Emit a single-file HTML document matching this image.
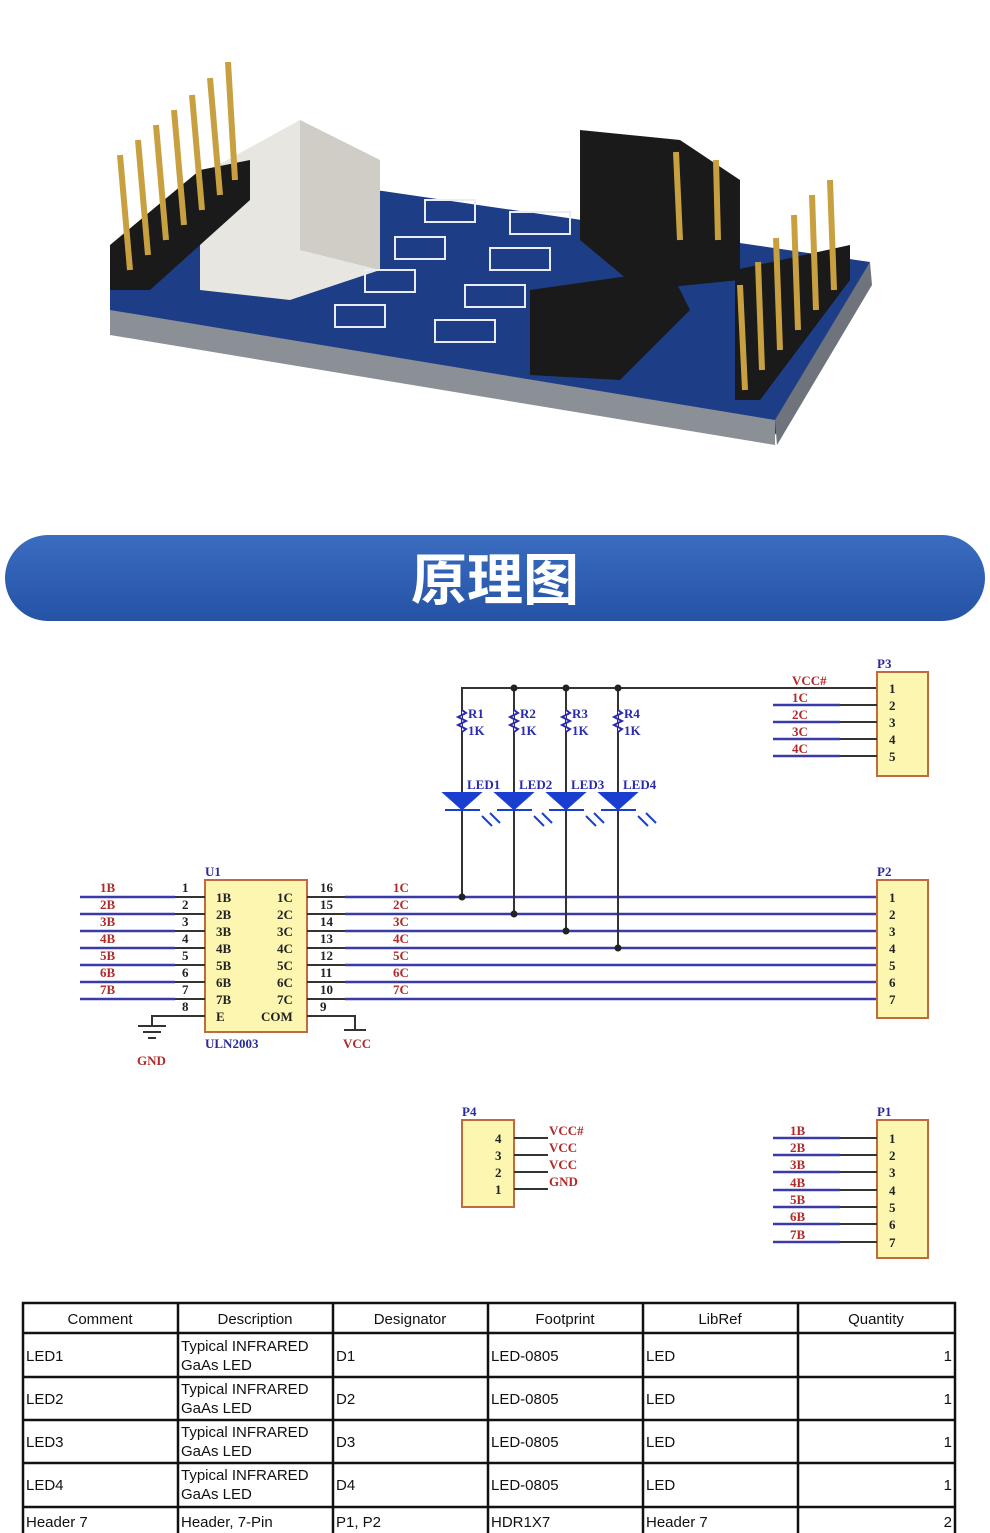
<!DOCTYPE html>
<html><head><meta charset="utf-8"><style>
html,body{margin:0;padding:0;background:#fff}
svg{display:block}
.r{font-family:"Liberation Serif",serif;font-size:13px;fill:#b02a2a;font-weight:bold}
.k{font-family:"Liberation Serif",serif;font-size:13px;fill:#222;font-weight:bold}
.b{font-family:"Liberation Serif",serif;font-size:13px;fill:#2a2a9a;font-weight:bold}
.t{font-family:"Liberation Sans",sans-serif;font-size:15px;fill:#111}
</style></head><body>
<svg width="990" height="1533" viewBox="0 0 990 1533" xmlns="http://www.w3.org/2000/svg">
<rect width="990" height="1533" fill="#fff"/>
<polygon points="110,290 293,178 870,262 775,435 110,330" fill="#1d3e86"/>
<polygon points="110,310 775,420 775,445 110,335" fill="#8b8f96"/>
<polygon points="775,420 870,262 872,285 777,445" fill="#6f747c"/>
<g fill="#e8e6e0"><polygon points="200,175 300,120 380,160 380,270 290,300 200,290"/></g>
<polygon points="300,120 380,160 380,270 300,250" fill="#cfcdc6"/>
<g fill="#1a1a1a"><polygon points="110,245 200,170 250,160 250,200 150,290 110,290"/>
<polygon points="580,130 680,140 740,180 740,280 640,290 580,240"/>
<polygon points="530,290 670,270 690,310 620,380 530,375"/>
<polygon points="735,270 850,245 850,280 760,400 735,400"/></g>
<g stroke="#c8a040" stroke-width="6">
<line x1="120" y1="155" x2="130" y2="270"/><line x1="138" y1="140" x2="148" y2="255"/><line x1="156" y1="125" x2="166" y2="240"/><line x1="174" y1="110" x2="184" y2="225"/><line x1="192" y1="95" x2="202" y2="210"/><line x1="210" y1="78" x2="220" y2="195"/><line x1="228" y1="62" x2="235" y2="180"/>
<line x1="676" y1="152" x2="680" y2="240"/><line x1="716" y1="160" x2="718" y2="240"/>
<line x1="740" y1="285" x2="745" y2="390"/><line x1="758" y1="262" x2="762" y2="370"/><line x1="776" y1="238" x2="780" y2="350"/><line x1="794" y1="215" x2="798" y2="330"/><line x1="812" y1="195" x2="816" y2="310"/><line x1="830" y1="180" x2="834" y2="290"/>
</g>
<g fill="none" stroke="#e8ecf4" stroke-width="2">
<rect x="425" y="200" width="50" height="22"/><rect x="395" y="237" width="50" height="22"/><rect x="365" y="270" width="50" height="22"/><rect x="335" y="305" width="50" height="22"/>
<rect x="510" y="212" width="60" height="22"/><rect x="490" y="248" width="60" height="22"/><rect x="465" y="285" width="60" height="22"/><rect x="435" y="320" width="60" height="22"/>
</g>
<defs><linearGradient id="g" x1="0" y1="0" x2="0" y2="1"><stop offset="0" stop-color="#3a6cc0"/><stop offset="1" stop-color="#2553a6"/></linearGradient></defs>
<rect x="5" y="535" width="980" height="86" rx="43" fill="url(#g)"/>
<text x="495" y="600" text-anchor="middle" font-family="Liberation Sans,'Noto Sans CJK SC',sans-serif" font-size="56" font-weight="bold" fill="#fff">原理图</text>

<rect x="205" y="880" width="102" height="152" fill="#fdf6b0" stroke="#c06a40" stroke-width="2"/>
<text x="205" y="876" class="b">U1</text><text x="205" y="1048" class="b">ULN2003</text>
<g stroke="#333" stroke-width="2" fill="none">
<path d="M205 1016H152V1026"/><path d="M307 1016H355V1030"/>
<path d="M138 1026H166M143 1032H161M148 1038H156"/><path d="M344 1030H366"/>
</g>
<text x="137" y="1065" class="r">GND</text><text x="343" y="1048" class="r">VCC</text>
<g stroke="#3a3aa8" stroke-width="2.4">
<line x1="80" y1="897" x2="175" y2="897"/><line x1="80" y1="914" x2="175" y2="914"/><line x1="80" y1="931" x2="175" y2="931"/><line x1="80" y1="948" x2="175" y2="948"/><line x1="80" y1="965" x2="175" y2="965"/><line x1="80" y1="982" x2="175" y2="982"/><line x1="80" y1="999" x2="175" y2="999"/>
<line x1="345" y1="897" x2="877" y2="897"/><line x1="345" y1="914" x2="877" y2="914"/><line x1="345" y1="931" x2="877" y2="931"/><line x1="345" y1="948" x2="877" y2="948"/><line x1="345" y1="965" x2="877" y2="965"/><line x1="345" y1="982" x2="877" y2="982"/><line x1="345" y1="999" x2="877" y2="999"/>
</g>
<g stroke="#333" stroke-width="2">
<line x1="175" y1="897" x2="205" y2="897"/><line x1="175" y1="914" x2="205" y2="914"/><line x1="175" y1="931" x2="205" y2="931"/><line x1="175" y1="948" x2="205" y2="948"/><line x1="175" y1="965" x2="205" y2="965"/><line x1="175" y1="982" x2="205" y2="982"/><line x1="175" y1="999" x2="205" y2="999"/>
<line x1="307" y1="897" x2="345" y2="897"/><line x1="307" y1="914" x2="345" y2="914"/><line x1="307" y1="931" x2="345" y2="931"/><line x1="307" y1="948" x2="345" y2="948"/><line x1="307" y1="965" x2="345" y2="965"/><line x1="307" y1="982" x2="345" y2="982"/><line x1="307" y1="999" x2="345" y2="999"/>
</g>
<g class="r"><text x="100" y="892">1B</text><text x="100" y="909">2B</text><text x="100" y="926">3B</text><text x="100" y="943">4B</text><text x="100" y="960">5B</text><text x="100" y="977">6B</text><text x="100" y="994">7B</text>
<text x="393" y="892">1C</text><text x="393" y="909">2C</text><text x="393" y="926">3C</text><text x="393" y="943">4C</text><text x="393" y="960">5C</text><text x="393" y="977">6C</text><text x="393" y="994">7C</text></g>
<g class="k"><text x="182" y="892">1</text><text x="182" y="909">2</text><text x="182" y="926">3</text><text x="182" y="943">4</text><text x="182" y="960">5</text><text x="182" y="977">6</text><text x="182" y="994">7</text><text x="182" y="1011">8</text>
<text x="320" y="892">16</text><text x="320" y="909">15</text><text x="320" y="926">14</text><text x="320" y="943">13</text><text x="320" y="960">12</text><text x="320" y="977">11</text><text x="320" y="994">10</text><text x="320" y="1011">9</text>
<text x="216" y="902">1B</text><text x="216" y="919">2B</text><text x="216" y="936">3B</text><text x="216" y="953">4B</text><text x="216" y="970">5B</text><text x="216" y="987">6B</text><text x="216" y="1004">7B</text><text x="216" y="1021">E</text>
<text x="277" y="902">1C</text><text x="277" y="919">2C</text><text x="277" y="936">3C</text><text x="277" y="953">4C</text><text x="277" y="970">5C</text><text x="277" y="987">6C</text><text x="277" y="1004">7C</text><text x="261" y="1021">COM</text></g>

<g stroke="#333" stroke-width="2" fill="none">
<path d="M462 897V688H877"/><path d="M514 914V688"/><path d="M566 931V688"/><path d="M618 948V688"/>
</g>
<g fill="#222"><circle cx="462" cy="897" r="3.5"/><circle cx="514" cy="914" r="3.5"/><circle cx="566" cy="931" r="3.5"/><circle cx="618" cy="948" r="3.5"/>
<circle cx="514" cy="688" r="3.5"/><circle cx="566" cy="688" r="3.5"/><circle cx="618" cy="688" r="3.5"/></g>
<g fill="#fff" stroke="#2a2ab0" stroke-width="2">
<path d="M462 710l4 3-8 4 8 4-8 4 8 4-4 3"/><path d="M514 710l4 3-8 4 8 4-8 4 8 4-4 3"/><path d="M566 710l4 3-8 4 8 4-8 4 8 4-4 3"/><path d="M618 710l4 3-8 4 8 4-8 4 8 4-4 3"/>
</g>
<g class="b" style="fill:#2a2ab0"><text x="468" y="718">R1</text><text x="468" y="735">1K</text><text x="520" y="718">R2</text><text x="520" y="735">1K</text><text x="572" y="718">R3</text><text x="572" y="735">1K</text><text x="624" y="718">R4</text><text x="624" y="735">1K</text>
<text x="467" y="789">LED1</text><text x="519" y="789">LED2</text><text x="571" y="789">LED3</text><text x="623" y="789">LED4</text></g>
<g fill="#1a3fd0" stroke="#1a3fd0" stroke-width="2">
<path d="M444 793H480L462 809Z"/><line x1="445" y1="810" x2="480" y2="810"/>
<path d="M496 793H532L514 809Z"/><line x1="497" y1="810" x2="532" y2="810"/>
<path d="M548 793H584L566 809Z"/><line x1="549" y1="810" x2="584" y2="810"/>
<path d="M600 793H636L618 809Z"/><line x1="601" y1="810" x2="636" y2="810"/>
<path d="M482 816l10 10M490 813l10 10M534 816l10 10M542 813l10 10M586 816l10 10M594 813l10 10M638 816l10 10M646 813l10 10"/>
</g>

<rect x="877" y="672" width="51" height="104" fill="#fdf6b0" stroke="#c06a40" stroke-width="2"/>
<text x="877" y="668" class="b">P3</text>
<g stroke="#3a3aa8" stroke-width="2.4"><line x1="773" y1="705" x2="840" y2="705"/><line x1="773" y1="722" x2="840" y2="722"/><line x1="773" y1="739" x2="840" y2="739"/><line x1="773" y1="756" x2="840" y2="756"/></g>
<g stroke="#333" stroke-width="2"><line x1="840" y1="705" x2="877" y2="705"/><line x1="840" y1="722" x2="877" y2="722"/><line x1="840" y1="739" x2="877" y2="739"/><line x1="840" y1="756" x2="877" y2="756"/></g>
<g class="r"><text x="792" y="685">VCC#</text><text x="792" y="702">1C</text><text x="792" y="719">2C</text><text x="792" y="736">3C</text><text x="792" y="753">4C</text></g>
<g class="k"><text x="889" y="693">1</text><text x="889" y="710">2</text><text x="889" y="727">3</text><text x="889" y="744">4</text><text x="889" y="761">5</text></g>

<rect x="877" y="880" width="51" height="138" fill="#fdf6b0" stroke="#c06a40" stroke-width="2"/>
<text x="877" y="876" class="b">P2</text>
<g class="k"><text x="889" y="902">1</text><text x="889" y="919">2</text><text x="889" y="936">3</text><text x="889" y="953">4</text><text x="889" y="970">5</text><text x="889" y="987">6</text><text x="889" y="1004">7</text></g>

<rect x="462" y="1120" width="52" height="87" fill="#fdf6b0" stroke="#c06a40" stroke-width="2"/>
<text x="462" y="1116" class="b">P4</text>
<g stroke="#333" stroke-width="2"><line x1="514" y1="1138" x2="548" y2="1138"/><line x1="514" y1="1155" x2="548" y2="1155"/><line x1="514" y1="1172" x2="548" y2="1172"/><line x1="514" y1="1189" x2="548" y2="1189"/></g>
<g class="k"><text x="495" y="1143">4</text><text x="495" y="1160">3</text><text x="495" y="1177">2</text><text x="495" y="1194">1</text></g>
<g class="r"><text x="549" y="1135">VCC#</text><text x="549" y="1152">VCC</text><text x="549" y="1169">VCC</text><text x="549" y="1186">GND</text></g>

<rect x="877" y="1120" width="51" height="138" fill="#fdf6b0" stroke="#c06a40" stroke-width="2"/>
<text x="877" y="1116" class="b">P1</text>
<g stroke="#3a3aa8" stroke-width="2.4"><line x1="773" y1="1138" x2="840" y2="1138"/><line x1="773" y1="1155" x2="840" y2="1155"/><line x1="773" y1="1172" x2="840" y2="1172"/><line x1="773" y1="1190" x2="840" y2="1190"/><line x1="773" y1="1207" x2="840" y2="1207"/><line x1="773" y1="1224" x2="840" y2="1224"/><line x1="773" y1="1242" x2="840" y2="1242"/></g>
<g stroke="#333" stroke-width="2"><line x1="840" y1="1138" x2="877" y2="1138"/><line x1="840" y1="1155" x2="877" y2="1155"/><line x1="840" y1="1172" x2="877" y2="1172"/><line x1="840" y1="1190" x2="877" y2="1190"/><line x1="840" y1="1207" x2="877" y2="1207"/><line x1="840" y1="1224" x2="877" y2="1224"/><line x1="840" y1="1242" x2="877" y2="1242"/></g>
<g class="r"><text x="790" y="1135">1B</text><text x="790" y="1152">2B</text><text x="790" y="1169">3B</text><text x="790" y="1187">4B</text><text x="790" y="1204">5B</text><text x="790" y="1221">6B</text><text x="790" y="1239">7B</text></g>
<g class="k"><text x="889" y="1143">1</text><text x="889" y="1160">2</text><text x="889" y="1177">3</text><text x="889" y="1195">4</text><text x="889" y="1212">5</text><text x="889" y="1229">6</text><text x="889" y="1247">7</text></g>

<g stroke="#111" stroke-width="2.5" fill="none">
<rect x="23" y="1303" width="932" height="240"/>
<line x1="23" y1="1333" x2="955" y2="1333"/><line x1="23" y1="1377" x2="955" y2="1377"/><line x1="23" y1="1420" x2="955" y2="1420"/><line x1="23" y1="1463" x2="955" y2="1463"/><line x1="23" y1="1507" x2="955" y2="1507"/>
<line x1="178" y1="1303" x2="178" y2="1533"/><line x1="333" y1="1303" x2="333" y2="1533"/><line x1="488" y1="1303" x2="488" y2="1533"/><line x1="643" y1="1303" x2="643" y2="1533"/><line x1="798" y1="1303" x2="798" y2="1533"/>
</g>
<g class="t" text-anchor="middle"><text x="100" y="1324">Comment</text><text x="255" y="1324">Description</text><text x="410" y="1324">Designator</text><text x="565" y="1324">Footprint</text><text x="720" y="1324">LibRef</text><text x="876" y="1324">Quantity</text></g>
<g class="t">
<text x="26" y="1361">LED1</text><text x="181" y="1351">Typical INFRARED</text><text x="181" y="1370">GaAs LED</text><text x="336" y="1361">D1</text><text x="491" y="1361">LED-0805</text><text x="646" y="1361">LED</text><text x="952" y="1361" text-anchor="end">1</text>
<text x="26" y="1404">LED2</text><text x="181" y="1394">Typical INFRARED</text><text x="181" y="1413">GaAs LED</text><text x="336" y="1404">D2</text><text x="491" y="1404">LED-0805</text><text x="646" y="1404">LED</text><text x="952" y="1404" text-anchor="end">1</text>
<text x="26" y="1447">LED3</text><text x="181" y="1437">Typical INFRARED</text><text x="181" y="1456">GaAs LED</text><text x="336" y="1447">D3</text><text x="491" y="1447">LED-0805</text><text x="646" y="1447">LED</text><text x="952" y="1447" text-anchor="end">1</text>
<text x="26" y="1490">LED4</text><text x="181" y="1480">Typical INFRARED</text><text x="181" y="1499">GaAs LED</text><text x="336" y="1490">D4</text><text x="491" y="1490">LED-0805</text><text x="646" y="1490">LED</text><text x="952" y="1490" text-anchor="end">1</text>
<text x="26" y="1527">Header 7</text><text x="181" y="1527">Header, 7-Pin</text><text x="336" y="1527">P1, P2</text><text x="491" y="1527">HDR1X7</text><text x="646" y="1527">Header 7</text><text x="952" y="1527" text-anchor="end">2</text>
</g>
</svg>
</body></html>
